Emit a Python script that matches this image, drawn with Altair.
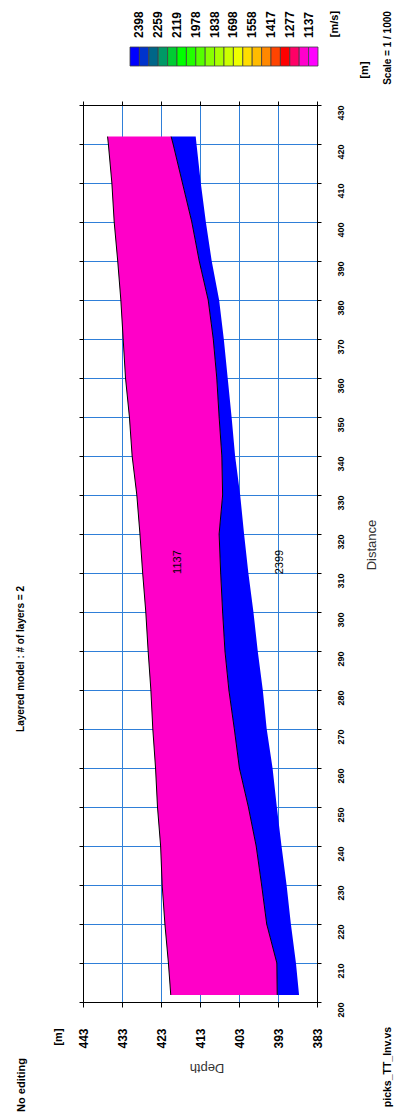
import altair as alt
import pandas as pd

FONT = "Liberation Sans"
PINK = "#FF00C8"
BLUE = "#0000FF"
GRID = "#2f7fd8"

# ---- data ----
distance = [201.8, 210, 220, 230, 240, 250, 260, 270, 280, 290, 300, 310, 320, 330,
            340, 350, 360, 370, 380, 390, 400, 410, 420, 421.9]
surface = [420.5, 421.1, 422.0, 422.7, 423.1, 423.9, 424.4, 425.1, 425.6, 426.3, 426.9, 427.7,
           428.4, 429.2, 430.4, 431.1, 432.1, 432.7, 433.3, 434.1, 435.0, 435.6, 436.5, 436.7]
interface = [393.2, 393.3, 395.9, 397.2, 398.6, 400.6, 402.9, 404.2, 405.6, 406.6, 407.2, 407.7,
             408.1, 407.2, 407.4, 408.1, 408.7, 409.6, 410.9, 413.2, 415.1, 417.5, 419.9, 420.4]
bottom = [387.6, 388.4, 389.7, 390.8, 392.1, 393.3, 394.4, 395.9, 396.9, 398.2, 399.3, 400.6,
          401.7, 402.7, 404.0, 404.9, 405.9, 406.9, 408.1, 410.0, 411.5, 412.8, 413.9, 414.1]

layer_velocity = ["1137", "2399"]
layer_label_depth = [418.6, 392.5]
layer_label_dist = [312.8, 312.8]

depth_ticks = [383, 393, 403, 413, 423, 433, 443]
distance_ticks = list(range(200, 431, 10))

colorbar_index = list(range(20))
colorbar_colors = ["#0000FF", "#0033CC", "#006688", "#009966", "#00CC33", "#00FF00", "#22FF00",
                   "#55FF00", "#88FF00", "#AAFF00", "#CCFF00", "#EEFF00", "#FFDD00", "#FFBB00",
                   "#FF8800", "#FF4400", "#FF0000", "#FF0066", "#FF00CC", "#FF00FF"]
colorbar_labels = ["2398", "2259", "2119", "1978", "1838", "1698", "1558", "1417", "1277", "1137"]
colorbar_label_pos = [1, 3, 5, 7, 9, 11, 13, 15, 17, 19]

# ---- tables ----
model = pd.DataFrame({"dist": distance, "surface": surface, "interface": interface, "bottom": bottom})
labels_df = pd.DataFrame({"v": layer_velocity, "depth": layer_label_depth, "dist": layer_label_dist})
cb_df = pd.DataFrame({"i0": colorbar_index, "i1": [i + 1 for i in colorbar_index],
                      "c": [str(i) for i in colorbar_index]})
cb_lab_df = pd.DataFrame({"t": colorbar_labels, "p": colorbar_label_pos})

XS = alt.Scale(domain=[383, 443], reverse=True, nice=False, zero=False)
YS = alt.Scale(domain=[200, 430], nice=False, zero=False)
CBX = alt.Scale(domain=[-5, 19.894], nice=False, zero=False)

x_axis_bottom = alt.Axis(orient="bottom", values=depth_ticks, title=None, grid=True,
                         gridColor=GRID, gridWidth=1, gridOpacity=1,
                         domainColor="black", tickColor="black", tickSize=5,
                         labelAngle=270, labelAlign="right", labelBaseline="middle",
                         labelPadding=21, labelFont=FONT, labelFontSize=12,
                         labelFontWeight="bold", labelColor="black", format="d")
y_axis_right = alt.Axis(orient="right", values=distance_ticks, title=None, grid=True,
                        gridColor=GRID, gridWidth=1, gridOpacity=1,
                        domainColor="black", tickColor="black", tickSize=4,
                        labelAngle=270, labelAlign="right", labelBaseline="middle",
                        labelPadding=19, labelFont=FONT, labelFontSize=9,
                        labelFontWeight="bold", labelColor="black", format="d")

pink = alt.Chart(model).mark_area(orient="horizontal", color=PINK).encode(
    y=alt.Y("dist:Q", scale=YS, axis=y_axis_right),
    x=alt.X("surface:Q", scale=XS, axis=x_axis_bottom),
    x2="interface:Q",
)
blue = alt.Chart(model).mark_area(orient="horizontal", color=BLUE).encode(
    y=alt.Y("dist:Q", scale=YS, axis=None),
    x=alt.X("interface:Q", scale=XS, axis=None),
    x2="bottom:Q",
)
surf_line = alt.Chart(model).mark_line(color="black", strokeWidth=1).encode(
    y=alt.Y("dist:Q", scale=YS, axis=None),
    x=alt.X("surface:Q", scale=XS, axis=None),
    order="dist:Q",
)
iface_line = alt.Chart(model).mark_line(color="black", strokeWidth=1).encode(
    y=alt.Y("dist:Q", scale=YS, axis=None),
    x=alt.X("interface:Q", scale=XS, axis=None),
    order="dist:Q",
)
other_axes = alt.Chart(model).mark_point(opacity=0).encode(
    y=alt.Y("dist:Q", scale=YS,
            axis=alt.Axis(orient="left", values=distance_ticks, title=None, grid=False,
                          labels=False, domainColor="black", tickColor="black", tickSize=4)),
    x=alt.X("surface:Q", scale=XS,
            axis=alt.Axis(orient="top", values=depth_ticks, title=None, grid=False,
                          labels=False, domainColor="black", tickColor="black", tickSize=4)),
)
region_text = alt.Chart(labels_df).mark_text(angle=270, font=FONT, fontSize=11, color="black",
                                             align="center", baseline="middle").encode(
    x=alt.X("depth:Q", scale=XS, axis=None),
    y=alt.Y("dist:Q", scale=YS, axis=None),
    text="v:N",
)

colorbar = alt.Chart(cb_df).mark_rect(stroke="#404040", strokeWidth=0.8).encode(
    x=alt.X("i0:Q", scale=CBX, axis=None),
    x2="i1:Q",
    y=alt.value(-58),
    y2=alt.value(-39),
    color=alt.Color("c:N", scale=alt.Scale(domain=[str(i) for i in colorbar_index],
                                           range=colorbar_colors), legend=None),
)
colorbar_text = alt.Chart(cb_lab_df).mark_text(angle=270, font=FONT, fontSize=12, fontWeight="bold",
                                               color="black", align="left", baseline="middle").encode(
    x=alt.X("p:Q", scale=CBX, axis=None),
    y=alt.value(-67),
    text="t:N",
)


def note(text, x, y, angle, size, weight="bold", color="black"):
    return alt.Chart(pd.DataFrame({"t": [text]})).mark_text(
        angle=angle, font=FONT, fontSize=size, fontWeight=weight, color=color,
        align="center", baseline="middle").encode(x=alt.value(x), y=alt.value(y), text="t:N")


notes = [
    note("No editing", -61, 980, 270, 11),
    note("Layered model : # of layers = 2", -62, 554, 270, 10),
    note("[m]", -24, 932, 270, 11),
    note("[m/s]", 252, -81, 270, 11),
    note("[m]", 282, -35, 270, 11),
    note("Scale = 1 / 1000", 305, -57, 270, 10),
    note("picks_TT_Inv.vs", 305, 962, 270, 10.5),
    note("Distance", 289, 440, 270, 13, "normal", "#333333"),
    note("Depth", 124, 963, 180, 13, "normal", "#333333"),
]

chart = alt.layer(
    pink, blue, surf_line, iface_line, other_axes, region_text, colorbar, colorbar_text, *notes
).resolve_scale(
    x="independent", y="independent", color="independent"
).properties(
    width=234, height=897,
    autosize=alt.AutoSizeParams(type="none"),
    padding={"left": 75, "top": 97, "right": 77, "bottom": 110},
).configure_view(stroke="black", strokeWidth=1)

chart.save("out.html", embed_options={"renderer": "svg", "actions": False})
